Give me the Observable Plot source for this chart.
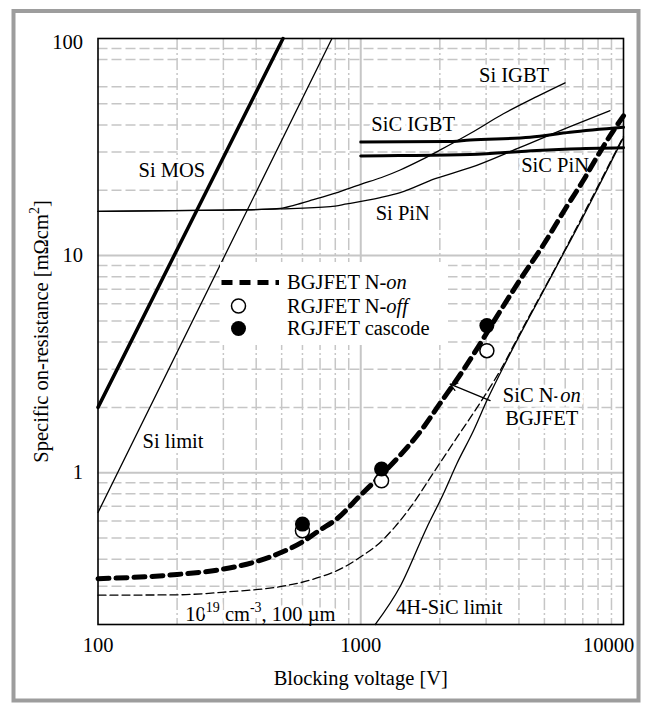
<!DOCTYPE html>
<html>
<head>
<meta charset="utf-8">
<script src="https://cdn.jsdelivr.net/npm/d3@7"></script>
<script src="https://cdn.jsdelivr.net/npm/@observablehq/plot@0.6"></script>
<style>
  html, body { margin: 0; padding: 0; background: #fff; }
  #chart svg { display: block; }
</style>
</head>
<body>
<div id="chart"></div>
<script>
// Axis ticks and grid values
const xTickValues = [100, 1000, 10000];
const yTickValues = [1, 10, 100];
const xMajorGrid = [1000];
const yMajorGrid = [1, 10];
const xMinorGrid = [200, 300, 400, 500, 600, 700, 800, 900, 2000, 3000, 4000, 5000, 6000, 7000, 8000, 9000];
const yMinorGrid = [0.3, 0.4, 0.5, 0.6, 0.7, 0.8, 0.9, 2, 3, 4, 5, 6, 7, 8, 9, 20, 30, 40, 50, 60, 80, 90];

// Curves: [blocking voltage (V), specific on-resistance (mΩcm²)]
const siMOS = [[100, 2.0], [506, 100]];
const siLimit = [[100, 0.656], [777, 100]];
const siIGBT = [[100, 16.0], [300, 16.2], [400, 16.3], [494, 16.5], [560, 17.1], [660, 18.1], [800, 19.4],
  [1000, 21.3], [1200, 22.9], [1413, 24.8], [1700, 27.6], [2000, 30.6], [2608, 36.5], [3491, 45.0],
  [4677, 54.0], [5993, 62.5]];
const siPiN = [[100, 16.0], [300, 16.2], [494, 16.4], [766, 16.8], [886, 17.3], [1187, 18.5],
  [1413, 19.5], [1920, 22.6], [2608, 25.4], [4042, 31.5], [6259, 39.3], [8886, 46.5]];
const sicIGBT = [[1000, 33.4], [2128, 33.5], [2608, 34.1], [4411, 35.1], [6259, 37.0], [10000, 39.0]];
const sicPiN = [[1000, 28.8], [1400, 28.9], [2608, 29.2], [4677, 30.5], [6259, 31.0], [10000, 31.4]];
const bgjfetNOn = [[100, 0.325], [200, 0.34], [300, 0.36], [400, 0.39], [500, 0.43], [600, 0.48],
  [700, 0.545], [800, 0.605], [1000, 0.79], [1200, 0.98], [1400, 1.19], [1700, 1.57], [2000, 2.08],
  [2400, 2.85], [2800, 3.8], [3200, 4.95], [4000, 7.6], [5000, 11.4], [6000, 16.4], [7000, 22.0],
  [8000, 29.0], [9000, 36.5], [10000, 44]];
const dopingLimit = [[100, 0.273], [200, 0.274], [314, 0.283], [487, 0.298], [652, 0.322], [873, 0.37],
  [1000, 0.41], [1168, 0.47], [1352, 0.565], [1542, 0.69], [1891, 1.0], [2321, 1.45], [2848, 2.1],
  [3390, 2.95], [4043, 4.4], [4608, 5.9], [5254, 7.9], [6259, 11.8], [8140, 21.8], [10000, 35.5]];
const sic4HLimit = [[1136, 0.2], [1414, 0.30], [1785, 0.56], [2064, 0.80], [2321, 1.1], [2685, 1.56],
  [3020, 2.15], [3597, 3.3], [4285, 4.95], [5000, 7.0], [5902, 10.2], [6834, 14.2], [8260, 22.2], [10000, 35]];

// Measured devices
const rgjfetNOff = [[600, 0.54], [1200, 0.918], [3020, 3.65]];
const rgjfetCascode = [[600, 0.58], [1200, 1.04], [3020, 4.76]];

// In-plot labels ("*...*" italic, "^...^" superscript)
const curveLabels = [
  {v: 191, r: 24.6, text: "Si MOS"},
  {v: 193, r: 1.40, text: "Si limit"},
  {v: 3834, r: 67.5, text: "Si IGBT"},
  {v: 1583, r: 40.4, text: "SiC IGBT"},
  {v: 5490, r: 26.0, text: "SiC PiN"},
  {v: 1445, r: 15.6, text: "Si PiN"},
  {v: 4887, r: 2.26, text: "SiC N-*on*"},
  {v: 4887, r: 1.77, text: "BGJFET"},
  {v: 2170, r: 0.239, text: "4H-SiC limit"},
  {v: 415, r: 0.2234, text: "10^19^ cm^-3^, 100 µm"}
];
const pointer = [{v1: 3107, r1: 2.15, v2: 2189, r2: 2.56}];

const legendItems = ["BGJFET N-*on*", "RGJFET N-*off*", "RGJFET cascode"];

const xTitle = "Blocking voltage [V]";
const yTitle = "Specific on-resistance [mΩcm^2^]";

const FONT = "'Liberation Serif', 'Times New Roman', serif";
const FS = 20.5;
const GRID = "#c6c6c6";
const V = d => d[0], R = d => d[1];
const T = {fontFamily: FONT, fontSize: FS, fill: "#000"};

const plot = Plot.plot({
  width: 646,
  height: 704,
  marginLeft: 97.5,
  marginRight: 23,
  marginTop: 38,
  marginBottom: 80,
  style: {fontFamily: FONT, background: "#fff", color: "#000", overflow: "visible"},
  x: {type: "log", domain: [100, 10000], axis: null},
  y: {type: "log", domain: [0.2, 100], axis: null},
  marks: [
    // grid
    Plot.ruleX(xMinorGrid, {stroke: GRID, strokeWidth: 1.5, strokeDasharray: "12,3,2,3"}),
    Plot.ruleY(yMinorGrid, {stroke: GRID, strokeWidth: 1.5, strokeDasharray: "10,4"}),
    Plot.ruleX(xMajorGrid, {stroke: GRID, strokeWidth: 2}),
    Plot.ruleY(yMajorGrid, {stroke: GRID, strokeWidth: 2}),
    // curve labels with white backing
    Plot.text(curveLabels, {x: "v", y: "r", text: "text", ...T, stroke: "#fff", strokeWidth: 7}),
    // curves
    Plot.line(siMOS, {x: V, y: R, stroke: "#000", strokeWidth: 3.5}),
    Plot.line(siLimit, {x: V, y: R, stroke: "#000", strokeWidth: 1.3}),
    Plot.line(siIGBT, {x: V, y: R, stroke: "#000", strokeWidth: 1.3, curve: "monotone-x"}),
    Plot.line(siPiN, {x: V, y: R, stroke: "#000", strokeWidth: 1.3, curve: "monotone-x"}),
    Plot.line(sicIGBT, {x: V, y: R, stroke: "#000", strokeWidth: 3, curve: "monotone-x"}),
    Plot.line(sicPiN, {x: V, y: R, stroke: "#000", strokeWidth: 3, curve: "monotone-x"}),
    Plot.line(dopingLimit, {x: V, y: R, stroke: "#000", strokeWidth: 1.3, strokeDasharray: "8,4", curve: "monotone-x"}),
    Plot.line(sic4HLimit, {x: V, y: R, stroke: "#000", strokeWidth: 1.3, curve: "monotone-x"}),
    Plot.line(bgjfetNOn, {x: V, y: R, stroke: "#000", strokeWidth: 5, strokeDasharray: "11,7", curve: "monotone-x"}),
    // devices
    Plot.dot(rgjfetNOff, {x: V, y: R, r: 7, fill: "#fff", stroke: "#000", strokeWidth: 1.5}),
    Plot.dot(rgjfetCascode, {x: V, y: R, r: 7.5, fill: "#000"}),
    Plot.arrow(pointer, {x1: "v1", y1: "r1", x2: "v2", y2: "r2", stroke: "#000", strokeWidth: 1.3, headLength: 9}),
    // frame
    Plot.frame({stroke: "#000", strokeWidth: 1.6}),
    // outer border
    Plot.frame({stroke: "#9d9d9d", strokeWidth: 4, insetLeft: -84.5, insetTop: -27.5, insetRight: -15, insetBottom: -76}),
    // tick labels
    Plot.text(yTickValues.slice(0, 2), {y: d => d, frameAnchor: "left", textAnchor: "end", lineAnchor: "middle", dx: -15, text: d => String(d), ...T}),
    Plot.text(yTickValues.slice(2), {y: d => d, frameAnchor: "left", textAnchor: "end", lineAnchor: "middle", dx: -15, dy: 4, text: d => String(d), ...T}),
    Plot.text(xTickValues.slice(0, 2), {x: d => d, frameAnchor: "bottom", lineAnchor: "middle", dy: 21, text: d => String(d), ...T}),
    Plot.text(xTickValues.slice(2), {x: d => d, frameAnchor: "bottom", lineAnchor: "middle", dy: 21, dx: -15, text: d => String(d), ...T}),
    // axis titles
    Plot.text([xTitle], {frameAnchor: "bottom", lineAnchor: "middle", dy: 54, text: d => d, ...T}),
    Plot.text([yTitle], {frameAnchor: "left", textAnchor: "middle", lineAnchor: "middle", dx: -57, rotate: -90, text: d => d, ...T})
  ]
});

// Rich text: *italic* and ^superscript^
function richify(node) {
  const s = node.textContent;
  if (!/[*^]/.test(s)) return;
  node.textContent = "";
  const parts = s.split(/(\*[^*]+\*|\^[^^]+\^)/).filter(p => p.length);
  let shift = 0;
  for (const p of parts) {
    const t = document.createElementNS("http://www.w3.org/2000/svg", "tspan");
    if (p[0] === "*") {
      t.textContent = p.slice(1, -1);
      t.setAttribute("font-style", "italic");
      if (shift) { t.setAttribute("dy", shift); shift = 0; }
    } else if (p[0] === "^") {
      t.textContent = p.slice(1, -1);
      t.setAttribute("font-size", "14");
      t.setAttribute("dy", -9 - shift);
      shift = 9;
    } else {
      t.textContent = p;
      if (shift) { t.setAttribute("dy", shift); shift = 0; }
    }
    node.appendChild(t);
  }
}
d3.select(plot).selectAll("text").each(function () { richify(this); });

// Legend box
const L = d3.select(plot).append("g")
  .attr("text-anchor", "start")
  .style("font-family", FONT).style("font-size", FS + "px");
L.append("rect").attr("x", 220).attr("y", 262).attr("width", 228).attr("height", 83).attr("fill", "#fff");
L.append("line").attr("x1", 221.5).attr("x2", 279).attr("y1", 282.5).attr("y2", 282.5)
  .attr("stroke", "#000").attr("stroke-width", 5).attr("stroke-dasharray", "11,7");
L.append("circle").attr("cx", 238.5).attr("cy", 306).attr("r", 7).attr("fill", "#fff")
  .attr("stroke", "#000").attr("stroke-width", 1.5);
L.append("circle").attr("cx", 238.5).attr("cy", 328.5).attr("r", 7.5).attr("fill", "#000");
const legendY = [282.5, 306, 328.5];
legendItems.forEach((txt, i) => {
  const t = L.append("text").attr("x", 287).attr("y", legendY[i]).attr("dy", "0.32em").text(txt);
  richify(t.node());
});

document.getElementById("chart").appendChild(plot);
</script>
</body>
</html>
